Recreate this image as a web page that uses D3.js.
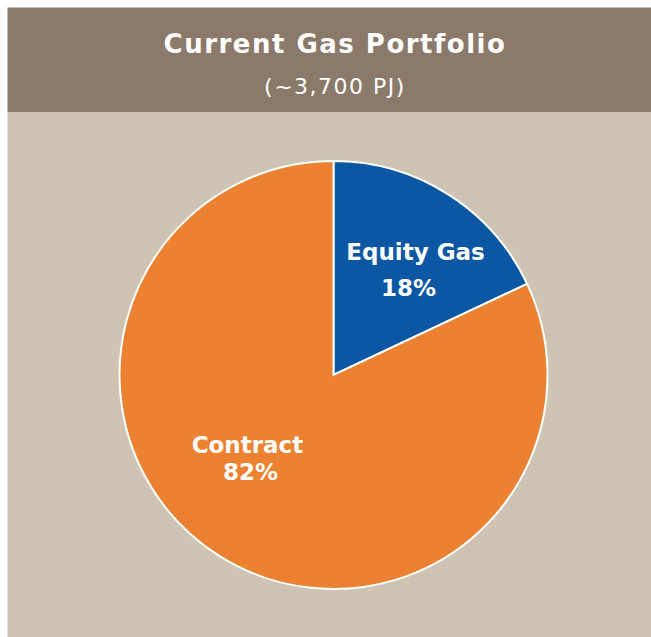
<!DOCTYPE html>
<html>
<head>
<meta charset="utf-8">
<script src="https://cdn.jsdelivr.net/npm/d3@7"></script>
<style>
  body { margin: 0; background: #fff; }
  svg { display: block; font-family: "DejaVu Sans", Verdana, sans-serif; }
</style>
</head>
<body>
<div id="chart"></div>
<script>
// data
var categories = ["Equity Gas", "Contract"];
var shares = [18, 82];
var sliceColors = ["#0b57a4", "#ec8231"];
var title = "Current Gas Portfolio";
var subtitle = "(~3,700 PJ)";

var width = 651, height = 637;

var svg = d3.select("#chart")
  .append("svg")
    .attr("width", width)
    .attr("height", height);

// panel: brown header on top, beige body below
svg.append("rect")
  .attr("x", 7.5).attr("y", 7.5)
  .attr("width", width - 7.5).attr("height", 105)
  .style("fill", "#8b796a");
svg.append("rect")
  .attr("x", 7.5).attr("y", 112)
  .attr("width", width - 7.5).attr("height", height - 112)
  .style("fill", "#cfc4b3");

svg.append("text")
  .attr("x", 335).attr("y", 53)
  .attr("text-anchor", "middle")
  .style("fill", "#fff")
  .style("font-size", "26px")
  .style("font-weight", "bold")
  .style("letter-spacing", "1.5px")
  .text(title);

svg.append("text")
  .attr("x", 335).attr("y", 94)
  .attr("text-anchor", "middle")
  .style("fill", "#fff")
  .style("font-size", "22px")
  .style("letter-spacing", "1.5px")
  .text(subtitle);

// pie
var cx = 333.5, cy = 375, radius = 214;
var data = categories.map((c, i) => ({name: c, value: shares[i]}));

var pie = d3.pie().sort(null).value(d => d.value);
var arc = d3.arc().innerRadius(0).outerRadius(radius);

var g = svg.append("g")
  .attr("transform", "translate(" + cx + "," + cy + ")");

var arcs = pie(data);

g.selectAll("path")
  .data(arcs)
  .enter()
  .append("path")
  .attr("d", arc)
  .style("fill", (d, i) => sliceColors[i])
  .style("stroke", "#fff")
  .style("stroke-width", 2);

// labels: name on one line, percentage below (nudged off the centroid like the original)
var labelArc = d3.arc().innerRadius(radius * 0.55).outerRadius(radius * 0.55);
var nudge = [[19, -16], [-23, -21]];
var lineGap = [36, 27];
var pctShift = [-7, 3];

arcs.forEach(function(d, i) {
  var c = labelArc.centroid(d);
  var x = c[0] + nudge[i][0], y = c[1] + nudge[i][1];
  var t = g.append("text")
    .attr("text-anchor", "middle")
    .style("fill", "#fff")
    .style("font-size", "23px")
    .style("font-weight", "bold");
  t.append("tspan")
    .attr("x", x).attr("y", y)
    .text(d.data.name);
  t.append("tspan")
    .attr("x", x + pctShift[i]).attr("y", y + lineGap[i])
    .text(d.data.value + "%");
});
</script>
</body>
</html>
